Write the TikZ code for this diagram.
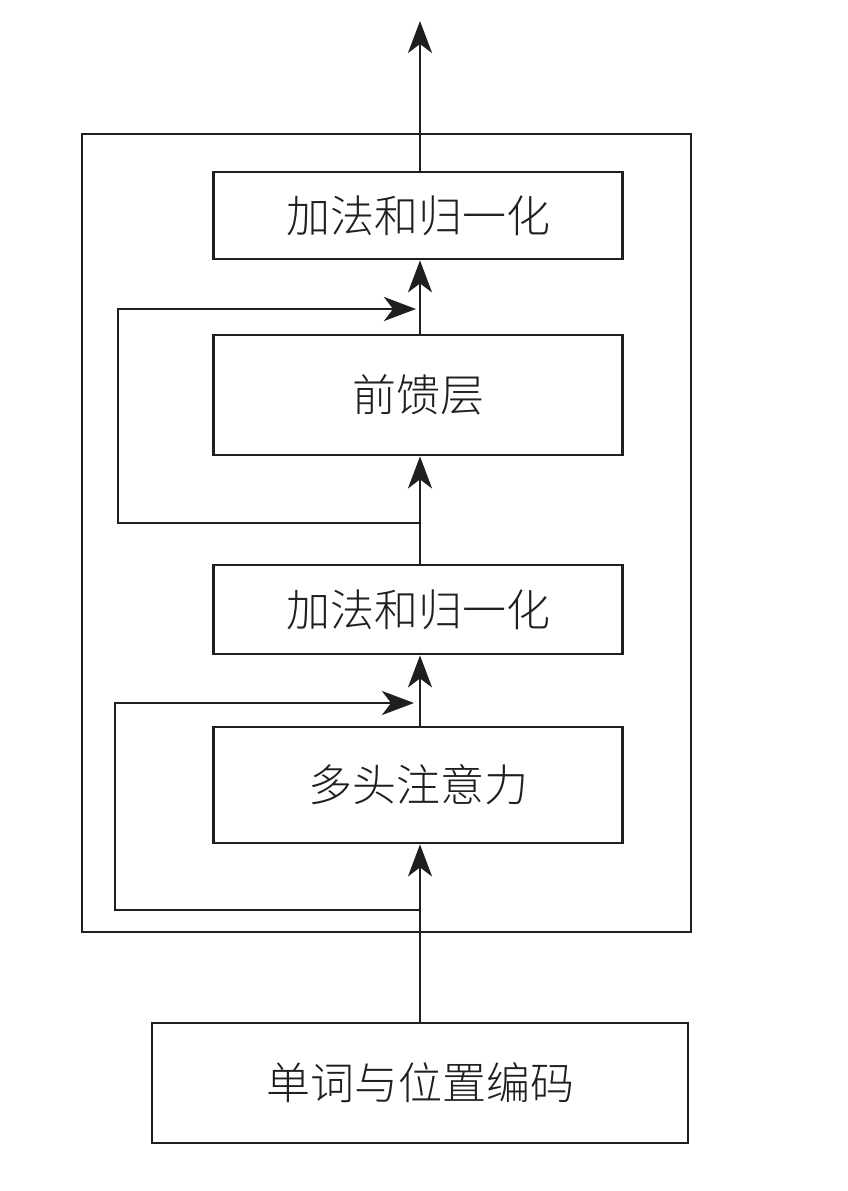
\documentclass[tikz,border=0pt]{standalone}
\usepackage{fontspec}
\newfontfamily\cjk{Noto Sans CJK SC Light}
\usetikzlibrary{arrows.meta,calc}
\begin{document}
\begin{tikzpicture}[x=1pt,y=-1pt,
  ln/.style={line width=2.8pt, draw=black!88},
  blk/.style={ln, rectangle, inner sep=0pt, font=\cjk\fontsize{44pt}{52pt}\selectfont, text=black!88},
  arr/.style={ln, -{Stealth[length=32pt,width=24pt,inset=9pt]}}]
\useasboundingbox (0,0) rectangle (847,1191);
% outer container
\node[ln, rectangle, inner sep=0pt, minimum width=609pt, minimum height=798pt] (outer) at (386.5,533) {};
% blocks
\node[blk, minimum width=409pt, minimum height=87pt] (add2) at (418,215.5) {加法和归一化};
\node[blk, minimum width=409pt, minimum height=120pt] (ffn) at (418,395) {前馈层};
\node[blk, minimum width=409pt, minimum height=89pt] (add1) at (418,609.5) {加法和归一化};
\node[blk, minimum width=409pt, minimum height=116pt] (mha) at (418,785) {多头注意力};
\node[blk, minimum width=536pt, minimum height=120pt] (emb) at (420,1083) {单词与位置编码};
% auxiliary coordinates
\coordinate (out) at (420,21);
\coordinate (r1s) at (420,523);
\coordinate (r1a) at (118,523);
\coordinate (r1b) at (118,309);
\coordinate (r1e) at (416,309);
\coordinate (r2s) at (420,910);
\coordinate (r2a) at (115,910);
\coordinate (r2b) at (115,703);
\coordinate (r2e) at (414,703);
% main flow
\draw[arr] (add2.north -| out) -- (out);
\draw[arr] (ffn.north -| out) -- (add2.south -| out);
\draw[arr] (add1.north -| out) -- (ffn.south -| out);
\draw[arr] (mha.north -| out) -- (add1.south -| out);
\draw[arr] (emb.north -| out) -- (mha.south -| out);
% residual connections
\draw[arr] (r1s) -- (r1a) -- (r1b) -- (r1e);
\draw[arr] (r2s) -- (r2a) -- (r2b) -- (r2e);
\end{tikzpicture}
\end{document}
